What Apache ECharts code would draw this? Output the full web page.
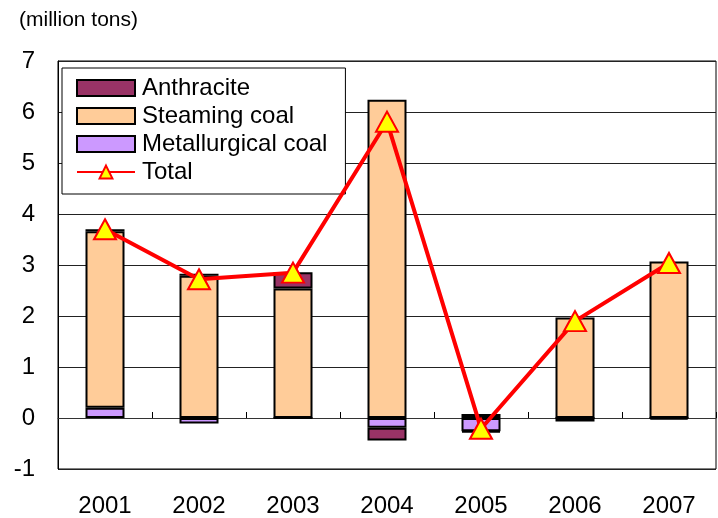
<!DOCTYPE html>
<html><head><meta charset="utf-8">
<script src="https://cdn.jsdelivr.net/npm/echarts@6/dist/echarts.min.js"></script>
<style>html,body{margin:0;padding:0;background:#fff}#c{width:718px;height:518px}</style>
</head><body><div id="c"></div>
<script>
var years = ['2001','2002','2003','2004','2005','2006','2007'];
var metallurgical = [0.20, -0.11, 0.00, -0.19, -0.26, 0.00, 0.00];
var steaming = [3.46, 2.79, 2.54, 6.24, 0.08, 1.97, 3.07];
var anthracite = [0.04, 0.04, 0.32, -0.25, -0.02, -0.07, -0.03];
var total = [3.70, 2.72, 2.85, 5.81, -0.21, 1.90, 3.04];
var FONT = 'Liberation Sans, Arial, sans-serif';
var chart = echarts.init(document.getElementById('c'));
function barSeries(name, data, color) {
  return {name: name, type: 'bar', stack: 'coal', data: data, barWidth: 39,
    itemStyle: {color: color, borderColor: '#000', borderWidth: 2}, z: 2};
}
chart.setOption({
  animation: false,
  title: {text: '(million tons)', left: 14, top: 5,
    textStyle: {fontFamily: FONT, fontSize: 21, fontWeight: 'normal', color: '#000'}},
  grid: {left: 58, right: 2, top: 61, bottom: 47, show: true, borderColor: '#000', borderWidth: 1},
  legend: {orient: 'vertical', left: 62, top: 68, padding: [8, 18, 10, 14],
    borderColor: '#000', borderWidth: 1, backgroundColor: '#fff',
    itemWidth: 58, itemHeight: 16, itemGap: 4,
    textStyle: {fontFamily: FONT, fontSize: 24, color: '#000', padding: [0,0,0,2]},
    data: [
      {name: 'Anthracite', icon: 'rect'},
      {name: 'Steaming coal', icon: 'rect'},
      {name: 'Metallurgical coal', icon: 'rect'},
      {name: 'Total'}]},
  xAxis: [
    {type: 'category', data: years, position: 'bottom',
     axisLine: {show: false, onZero: false}, axisTick: {show: false},
     axisLabel: {fontFamily: FONT, fontSize: 24, color: '#000', margin: 25}},
    {type: 'category', data: years, position: 'bottom',
     axisLine: {show: true, onZero: true, lineStyle: {color: '#333', width: 1}},
     axisTick: {show: true, inside: true, length: 6, lineStyle: {color: '#000'}},
     axisLabel: {show: false}}
  ],
  yAxis: {type: 'value', min: -1, max: 7, interval: 1,
    axisLine: {show: true, lineStyle: {color: '#000'}}, axisTick: {show: false},
    axisLabel: {fontFamily: FONT, fontSize: 24, color: '#000', margin: 23},
    splitLine: {lineStyle: {color: '#222', width: 1}}},
  series: [
    barSeries('Metallurgical coal', metallurgical, '#CC99FF'),
    barSeries('Steaming coal', steaming, '#FFCC99'),
    barSeries('Anthracite', anthracite, '#993366'),
    {name: 'Total', type: 'line', data: total, z: 5,
     lineStyle: {color: '#FF0000', width: 4},
     symbol: 'triangle', symbolSize: [22, 20],
     itemStyle: {color: '#FFFF00', borderColor: '#FF0000', borderWidth: 2}}
  ]
});
</script></body></html>
